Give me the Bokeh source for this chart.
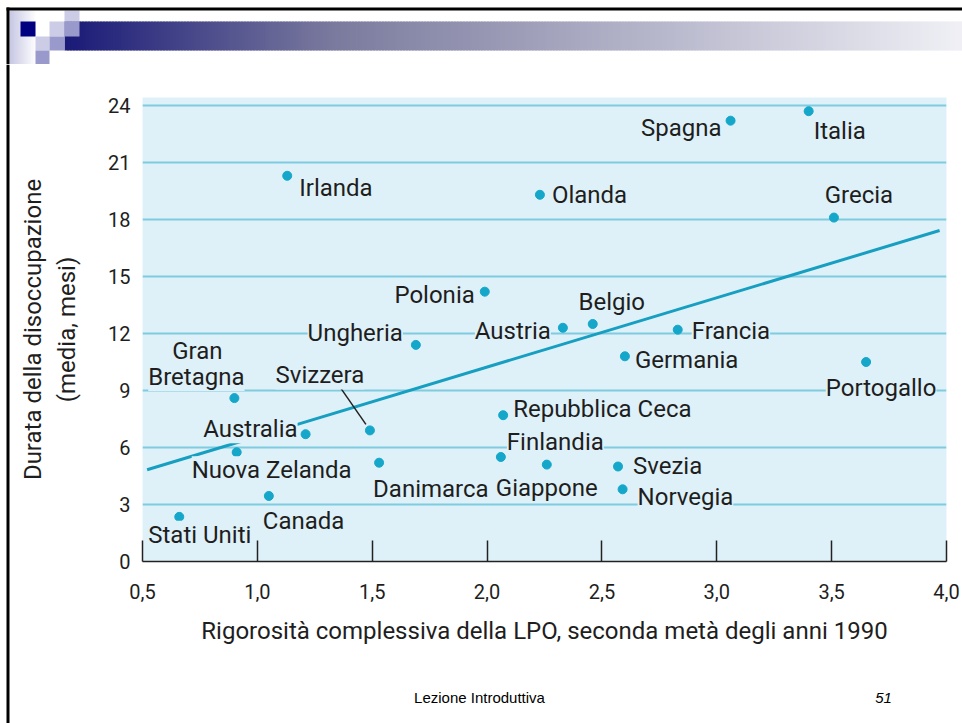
import numpy as np
from bokeh.plotting import figure
from bokeh.layouts import column, row
from bokeh.models import (ColumnDataSource, LabelSet, Label, FixedTicker, Range1d)
from bokeh.core.properties import value
from bokeh.embed import file_html
from bokeh.resources import INLINE

# ---------------- data ----------------
countries = ["Spagna", "Italia", "Irlanda", "Olanda", "Grecia", "Polonia",
             "Belgio", "Austria", "Ungheria", "Francia", "Germania",
             "Portogallo", "Gran Bretagna", "Svizzera", "Australia",
             "Repubblica Ceca", "Finlandia", "Nuova Zelanda", "Danimarca",
             "Giappone", "Svezia", "Norvegia", "Canada", "Stati Uniti"]
rigor = [3.06, 3.40, 1.13, 2.23, 3.51, 1.99,
         2.46, 2.33, 1.69, 2.83, 2.60,
         3.65, 0.90, 1.49, 1.21,
         2.07, 2.06, 0.91, 1.53,
         2.26, 2.57, 2.59, 1.05, 0.66]
duration = [23.2, 23.7, 20.3, 19.3, 18.1, 14.2,
            12.5, 12.3, 11.4, 12.2, 10.8,
            10.5, 8.6, 6.9, 6.7,
            7.7, 5.5, 5.75, 5.2,
            5.1, 5.0, 3.8, 3.45, 2.35]
fit_x = [0.52, 3.97]
fit_y = [4.83, 17.42]
x_ticks = [0.5, 1.0, 1.5, 2.0, 2.5, 3.0, 3.5, 4.0]
x_tick_labels = ["0,5", "1,0", "1,5", "2,0", "2,5", "3,0", "3,5", "4,0"]
y_ticks = [0, 3, 6, 9, 12, 15, 18, 21, 24]
x_title = "Rigorosità complessiva della LPO, seconda metà degli anni 1990"
y_title = "Durata della disoccupazione\n(media, mesi)"
footer_text = "Lezione Introduttiva"
page_number = "51"

# label placement (pixel offsets from each point, align)
label_style = {
    "Spagna": ("right", -9, -7), "Italia": ("left", 5, -20),
    "Irlanda": ("left", 12, -12), "Olanda": ("left", 12, 0),
    "Grecia": ("center", 25, 23), "Polonia": ("right", -10, -3),
    "Belgio": ("center", 19, 22), "Austria": ("right", -12, -3),
    "Ungheria": ("right", -13, 12), "Francia": ("left", 14, -1),
    "Germania": ("left", 10, -4), "Portogallo": ("center", 15, -26),
    "Gran Bretagna": ("center", -38, 21), "Svizzera": ("center", -50, 55),
    "Australia": ("right", -8, 5), "Repubblica Ceca": ("left", 10, 6),
    "Finlandia": ("left", 6, 15), "Nuova Zelanda": ("center", 35, -18),
    "Danimarca": ("left", -6, -26), "Giappone": ("center", 0, -23),
    "Svezia": ("left", 15, 0), "Norvegia": ("left", 15, -8),
    "Canada": ("left", -6, -25), "Stati Uniti": ("left", -31, -18),
}

FONT = "Roboto"
BG = "#dff1f8"
DOT = "#14a7ca"
GRID = "#7fcbe0"
TXT = "#1e1e1e"

W, H = 962, 723
TOP_H = 64          # decoration strip height
FOOT_H = 63         # footer strip height
LEFT_W = 10         # left border strip width
MAIN_W = W - LEFT_W
MAIN_H = H - TOP_H - FOOT_H
FL, FR, FT, FB = 142, 946, 97, 561   # chart frame edges in page px


def px_fig(w, h, x0, y0):
    f = figure(width=w, height=h, x_range=Range1d(x0, x0 + w),
               y_range=Range1d(y0 + h, y0), output_backend="svg",
               toolbar_location=None, min_border=0, x_axis_type=None,
               y_axis_type=None, outline_line_color=None,
               background_fill_color="white", border_fill_color="white")
    f.grid.visible = False
    f.frame_align = False
    return f


def mix(c0, c1, t):
    return "#%02x%02x%02x" % tuple(int(round(a + (b - a) * t)) for a, b in zip(c0, c1))


# ---------------- top decoration ----------------
deco = px_fig(W, TOP_H, 0, 0)
L, R, T, B, C = [], [], [], [], []
def add(x0, y0, x1, y1, c):
    L.append(x0); R.append(x1); T.append(y0); B.append(y1); C.append(c)

for k in range(9, 35, 2):
    add(k, 10, min(k + 3, 35), 64,
        mix((200, 200, 228), (255, 255, 255), (k - 9) / 26.0))
stops = [(64, (26, 26, 120)), (330, (122, 122, 158)), (962, (240, 240, 246))]
for k in range(64, 962, 3):
    for (a, ca), (b, cb) in zip(stops[:-1], stops[1:]):
        if a <= k < b:
            add(k, 21, min(k + 4, 962), 50, mix(ca, cb, (k - a) / (b - a)))
            break
light, medium, navy = "#ccccE6", "#9999cc", "#000080"
add(64, 10, 79, 21, light)
add(20, 21, 35, 36, navy)
add(49, 21, 64, 36, light)
add(64, 21, 79, 36, medium)
add(35, 36, 49, 50, light)
add(49, 36, 64, 50, medium)
add(35, 50, 49, 64, medium)
add(6, 7, 962, 10, "#000000")
add(6, 7, 9, 64, "#000000")
deco.quad(left=L, right=R, top=T, bottom=B, color=C, line_color=None)

# ---------------- left border strip ----------------
lstrip = px_fig(LEFT_W, MAIN_H + FOOT_H, 0, TOP_H)
lstrip.quad(left=[6], right=[9], top=[TOP_H], bottom=[H], color="#000000",
            line_color=None)

# ---------------- main chart ----------------
p = figure(width=MAIN_W, height=MAIN_H, output_backend="svg",
           toolbar_location=None,
           x_range=Range1d(0.5, 4.0), y_range=Range1d(0, 24.42),
           min_border_left=FL - LEFT_W, min_border_right=W - FR,
           min_border_top=FT - TOP_H, min_border_bottom=TOP_H + MAIN_H - FB,
           background_fill_color=BG, border_fill_color="white",
           outline_line_color=None)
p.frame_align = False

xa = p.xaxis[0]
xa.ticker = FixedTicker(ticks=x_ticks)
xa.major_label_overrides = {t: l for t, l in zip(x_ticks, x_tick_labels)}
xa.major_tick_in = 21
xa.major_tick_out = 0
xa.minor_tick_line_color = None
xa.axis_line_color = "#222222"
xa.axis_line_width = 1.5
xa.major_tick_line_color = "#222222"
xa.major_tick_line_width = 1.5
xa.major_label_text_font = FONT
xa.major_label_text_font_size = "20px"
xa.major_label_text_color = TXT
xa.major_label_standoff = 22
xa.axis_label = x_title
xa.axis_label_text_font = FONT
xa.axis_label_text_font_size = "24px"
xa.axis_label_text_font_style = "normal"
xa.axis_label_text_color = TXT
xa.axis_label_standoff = 15

ya = p.yaxis[0]
ya.ticker = FixedTicker(ticks=y_ticks)
ya.axis_line_color = None
ya.major_tick_line_color = None
ya.minor_tick_line_color = None
ya.major_tick_in = 0
ya.major_tick_out = 0
ya.major_label_text_font = FONT
ya.major_label_text_font_size = "20px"
ya.major_label_text_color = TXT
ya.major_label_standoff = 12
ya.axis_label = y_title
ya.axis_label_text_font = FONT
ya.axis_label_text_font_size = "24px"
ya.axis_label_text_font_style = "normal"
ya.axis_label_text_color = TXT
ya.axis_label_standoff = 24

p.xgrid.grid_line_color = None
p.ygrid.ticker = FixedTicker(ticks=y_ticks[1:])
p.ygrid.grid_line_color = GRID
p.ygrid.grid_line_width = 2

p.line(fit_x, fit_y, line_color="#179fc2", line_width=3)

shown = [c.split(" ")[-1] if c == "Gran Bretagna" else c for c in countries]
src = ColumnDataSource(dict(
    x=rigor, y=duration, text=shown,
    align=[label_style[c][0] for c in countries],
    dx=[label_style[c][1] for c in countries],
    dy=[label_style[c][2] for c in countries],
))
p.scatter("x", "y", source=src, size=9, color=DOT)

# Svizzera leader line
i = countries.index("Svizzera")
sx_per, sy_per = 229.7, 19.0
p.segment(x0=[rigor[i] - 29 / sx_per], y0=[duration[i] + 42 / sy_per],
          x1=[rigor[i] - 4 / sx_per], y1=[duration[i] + 6 / sy_per],
          line_color="#222222", line_width=1.5)

labels = LabelSet(x="x", y="y", text="text", source=src,
                  x_offset="dx", y_offset="dy", text_align="align",
                  text_baseline="middle", text_font=value(FONT),
                  text_font_size="24px", text_color=TXT,
                  background_fill_color=BG, background_fill_alpha=1.0)
p.add_layout(labels)

g = countries.index("Gran Bretagna")
p.add_layout(Label(x=rigor[g], y=duration[g], x_offset=-37, y_offset=47,
                   text=countries[g].split(" ")[0], text_align="center",
                   text_baseline="middle", text_font=FONT,
                   text_font_size="24px", text_color=TXT,
                   background_fill_color=BG, background_fill_alpha=1.0))

# ---------------- footer ----------------
foot = px_fig(MAIN_W, FOOT_H, LEFT_W, TOP_H + MAIN_H)
foot.text(x=[479], y=[697], text=[footer_text], text_align="center",
          text_baseline="middle", text_font=value("Liberation Sans"),
          text_font_size="15px", text_color="#000000")
foot.text(x=[883], y=[697], text=[page_number], text_align="center",
          text_baseline="middle", text_font=value("Liberation Sans"),
          text_font_size="15px", text_font_style="italic",
          text_color="#000000")

layout = column(deco, row(lstrip, column(p, foot, spacing=0), spacing=0),
                spacing=0)
open("out.html", "w").write(file_html(layout, INLINE))
